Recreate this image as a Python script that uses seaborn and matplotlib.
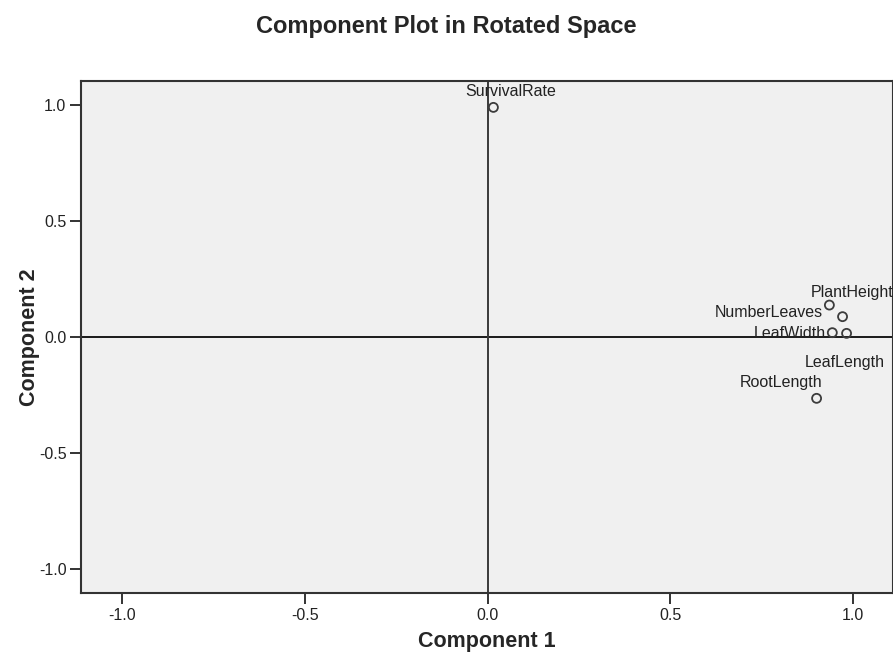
import matplotlib
matplotlib.use("Agg")
import matplotlib.pyplot as plt
import seaborn as sns
import pandas as pd

# Data (rotated component loadings)
variables = ['SurvivalRate', 'PlantHeight', 'NumberLeaves', 'LeafWidth', 'LeafLength', 'RootLength']
component1 = [0.016, 0.935, 0.971, 0.943, 0.982, 0.900]
component2 = [0.990, 0.138, 0.088, 0.019, 0.016, -0.264]
# label offsets (pixels, from the point to the text baseline centre)
label_dx = [17, 23, -74, -42, -1.5, -36]
label_dy = [11, 8, -0.5, -5.5, -33.5, 11.5]

df = pd.DataFrame({'Variable': variables, 'Component 1': component1, 'Component 2': component2})

sns.set_style('white')
plt.rcParams['font.family'] = ['Liberation Sans', 'DejaVu Sans']

fig = plt.figure(figsize=(8.93, 6.62), dpi=100)
ax = fig.add_axes([81 / 893, 1 - 593 / 662, (893 - 81) / 893, (593 - 80.7) / 662])
ax.set_facecolor('#f0f0f0')

ax.axhline(0, color='#1a1a1a', lw=1.4, zorder=1)
ax.axvline(0, color='#3a3a3a', lw=1.4, zorder=1)

sns.scatterplot(data=df, x='Component 1', y='Component 2', ax=ax, marker='o', s=42,
                facecolor='none', edgecolor='#3c3c3c', linewidth=1.3, zorder=3, legend=False)

for name, x, y, dx, dy in zip(variables, component1, component2, label_dx, label_dy):
    ax.annotate(name, (x, y), xytext=(dx, dy), textcoords='offset pixels',
                ha='center', va='baseline', fontsize=11.5, color='#222222', zorder=4)

ax.set_xlim(-1.112, 1.109)
ax.set_ylim(-1.103, 1.105)
ax.set_xticks([-1.0, -0.5, 0.0, 0.5, 1.0])
ax.set_yticks([-1.0, -0.5, 0.0, 0.5, 1.0])
ax.set_xticklabels(['-1.0', '-0.5', '0.0', '0.5', '1.0'])
ax.set_yticklabels(['-1.0', '-0.5', '0.0', '0.5', '1.0'])
ax.tick_params(axis='both', which='major', direction='out', length=8, width=1.4,
               color='#333333', labelsize=11.5, labelcolor='#222222', bottom=True, left=True, pad=2.5)
for side in ['left', 'bottom', 'top', 'right']:
    ax.spines[side].set_color('#333333')
    ax.spines[side].set_linewidth(1.5)

ax.set_xlabel('Component 1', fontsize=15.5, fontweight='bold', va='center')
ax.set_ylabel('Component 2', fontsize=15.5, fontweight='bold', va='center')
ax.xaxis.set_label_coords(0.5, (593 - 642) / 512.3)
ax.yaxis.set_label_coords((30 - 81) / 812, 0.5)
fig.text(0.5, 1 - 33 / 662, 'Component Plot in Rotated Space', ha='center', va='baseline',
         fontsize=17, fontweight='bold')

fig.savefig('out.png', dpi=100)
